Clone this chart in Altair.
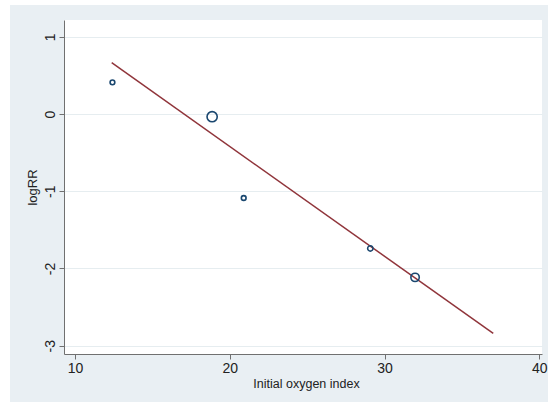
import altair as alt
import pandas as pd

# Study-level estimates
oxygen_index = [12.42, 18.86, 20.9, 29.08, 31.97]
log_rr = [0.41, -0.035, -1.087, -1.74, -2.115]
weight = [1.4, 6.5, 1.4, 1.8, 4.4]

# Meta-regression fitted line (end points)
fit_x = [12.37, 37.02]
fit_y = [0.664, -2.84]

x_ticks = [10, 20, 30, 40]
y_ticks = [-3, -2, -1, 0, 1]

FONT = "Liberation Sans"
REGION = "#e9eff3"
NAVY = "#1a476f"
MAROON = "#90353b"

points = pd.DataFrame({"x": oxygen_index, "y": log_rr, "w": weight})
fit = pd.DataFrame({"x": fit_x, "y": fit_y})

x_scale = alt.Scale(domain=[9.29, 40.17], nice=False, zero=False)
y_scale = alt.Scale(domain=[-3.107, 1.217], nice=False, zero=False)

# plain hyphen-minus in tick labels
plain_label = "'' + datum.value"

x_axis = alt.Axis(
    values=x_ticks, labelExpr=plain_label, title="Initial oxygen index", grid=False,
    domainColor="#707070", tickColor="#707070", tickSize=5,
    labelFont=FONT, labelFontSize=14, labelColor="#222222", labelPadding=2,
    titleFont=FONT, titleFontSize=12.5, titleFontWeight="normal", titleColor="#222222",
    titleX=242, titleY=29, titleBaseline="middle", titleAlign="center",
)
y_axis = alt.Axis(
    values=y_ticks, labelExpr=plain_label, title="logRR", grid=True,
    gridColor="#e6edf0", gridWidth=1.2,
    domainColor="#707070", tickColor="#707070", tickSize=5,
    labelFont=FONT, labelFontSize=14, labelColor="#222222",
    labelAngle=270, labelAlign="center", labelBaseline="bottom", labelPadding=2,
    titleFont=FONT, titleFontSize=13, titleFontWeight="normal", titleColor="#222222",
    titleAngle=270, titleX=-32, titleY=167, titleAlign="center", titleBaseline="middle",
)

# White page margin around the shaded graph region
one = pd.DataFrame({"k": [0]})
margin_left = alt.Chart(one).mark_rect(color="white").encode(
    x=alt.value(-64), x2=alt.value(-54), y=alt.value(-20), y2=alt.value(382)
)
margin_top = alt.Chart(one).mark_rect(color="white").encode(
    x=alt.value(-64), x2=alt.value(484), y=alt.value(-20), y2=alt.value(-15)
)

line = alt.Chart(fit).mark_line(color=MAROON, strokeWidth=1.5).encode(
    x=alt.X("x:Q", scale=x_scale, axis=x_axis),
    y=alt.Y("y:Q", scale=y_scale, axis=y_axis),
)

circles = alt.Chart(points).mark_point(
    shape="circle", filled=False, stroke=NAVY, strokeWidth=1.6, opacity=1
).encode(
    x=alt.X("x:Q", scale=x_scale),
    y=alt.Y("y:Q", scale=y_scale),
    size=alt.Size("w:Q", scale=alt.Scale(domain=[0, 6.5], range=[0, 104]), legend=None),
)

chart = alt.layer(margin_left, margin_top, line, circles).properties(
    width=478,
    height=334,
    autosize=alt.AutoSizeParams(type="none"),
    padding={"left": 64, "top": 20, "right": 6, "bottom": 48},
    background=REGION,
).configure_view(fill="white", stroke=None)

chart.save("out.html", embed_options={"renderer": "svg", "actions": False})
